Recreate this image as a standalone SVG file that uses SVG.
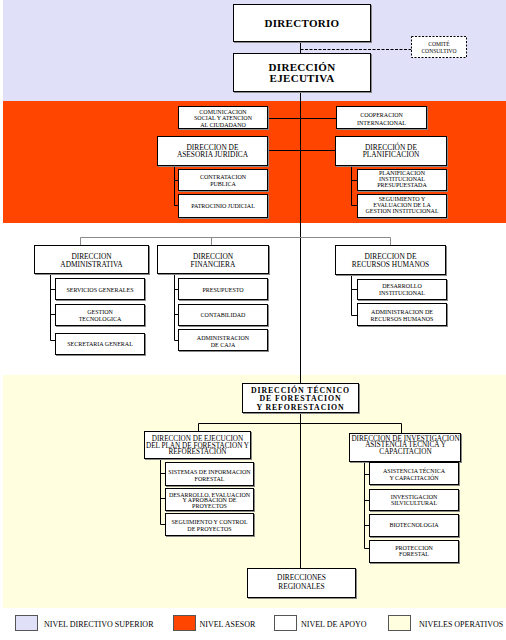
<svg xmlns="http://www.w3.org/2000/svg" width="506" height="640" viewBox="0 0 506 640">
<style>
text{font-family:"Liberation Serif","Times New Roman",serif;text-anchor:middle;fill:#000}
.box{fill:#fff;stroke:#000;stroke-width:1;filter:url(#sh)}
.dash{fill:#fff;stroke:#000;stroke-width:1;stroke-dasharray:2 1.5}
.ln{fill:none;stroke:#000;stroke-width:1}
.lg{fill:none;stroke:#8a8a8a;stroke-width:1}
.s{font-size:6px}
.m{font-size:7.4px}
.b{font-size:11px;font-weight:bold;letter-spacing:0.3px}
.bt{font-size:7.8px;font-weight:bold;letter-spacing:0.9px}
.lt{font-size:8px;text-anchor:start}
.key{stroke:#555;stroke-width:1}
</style>
<defs>
<filter id="sh" x="-5%" y="-5%" width="115%" height="125%">
<feDropShadow dx="1" dy="1" stdDeviation="0" flood-color="#888"/>
</filter>
</defs>
<rect x="3" y="0" width="503" height="101" fill="#E0E0F8"/>
<rect x="3" y="101" width="503" height="122" fill="#FF4500"/>
<rect x="3" y="375" width="503" height="233" fill="#FFFFE0"/>
<g id="connectors">
<path class="ln" d="M300.5 41.5V568.5"/>
<path class="ln" d="M300.5 49.5H411.5" stroke-dasharray="3 1.5"/>
<path class="ln" d="M267.5 118.5H336.5"/>
<path class="ln" d="M267.5 150.5H335.5"/>
<path class="ln" d="M174.5 165.5V205.5H178.5M174.5 180.5H178.5"/>
<path class="ln" d="M351.5 165.5V205.5H357.5M351.5 180.5H357.5"/>
<path class="lg" d="M80.5 245.5V237.5H390.5V245.5M211.5 237.5V245.5"/>
<path class="ln" d="M50.5 273.5V340.5H55.5M50.5 289.5H55.5M50.5 314.5H55.5"/>
<path class="ln" d="M174.5 273.5V340.5H178.5M174.5 289.5H178.5M174.5 314.5H178.5"/>
<path class="ln" d="M351.5 274.5V315.5H357.5M351.5 289.5H357.5"/>
<path class="ln" d="M198.5 431.5V423.5H401.5V433.5"/>
<path class="ln" d="M160.5 458.5V524.5H165.5M160.5 473.5H165.5M160.5 498.5H165.5"/>
<path class="ln" d="M364.5 461.5V548.5H369.5M364.5 474.5H369.5M364.5 500.5H369.5M364.5 525.5H369.5"/>
</g>
<g id="directorio"><rect class="box" x="233.5" y="4.5" width="137" height="37"/><text class="b" x="302" y="26.5">DIRECTORIO</text></g>
<g id="ejecutiva"><rect class="box" x="233.5" y="53.5" width="137" height="38"/><text class="b" x="302" y="70.5">DIRECCIÓN</text><text class="b" x="302" y="82">EJECUTIVA</text></g>
<g id="comite"><rect class="dash" x="411.5" y="36.5" width="55" height="21"/><text class="s" x="439" y="46" style="font-size:5.6px">COMITÉ</text><text class="s" x="439" y="53" style="font-size:5.6px">CONSULTIVO</text></g>
<g id="comunicacion"><rect class="box" x="178.5" y="106.5" width="89" height="22"/><text class="s" x="223" y="114">COMUNICACION</text><text class="s" x="223" y="120.3">SOCIAL Y ATENCION</text><text class="s" x="223" y="126.5">AL CIUDADANO</text></g>
<g id="cooperacion"><rect class="box" x="336.5" y="106.5" width="90" height="22"/><text class="s" x="381.5" y="117.3">COOPERACION</text><text class="s" x="381.5" y="125.3">INTERNACIONAL</text></g>
<g id="asesoria"><rect class="box" x="157.5" y="136.5" width="110" height="29"/><text class="m" x="212.5" y="149.5">DIRECCION DE</text><text class="m" x="212.5" y="157.2">ASESORIA JURIDICA</text></g>
<g id="planificacion"><rect class="box" x="335.5" y="136.5" width="111" height="29"/><text class="m" x="391" y="149.5">DIRECCIÓN DE</text><text class="m" x="391" y="157.2">PLANIFICACION</text></g>
<g id="contratacion"><rect class="box" x="178.5" y="169.5" width="89" height="21"/><text class="s" x="223" y="179">CONTRATACION</text><text class="s" x="223" y="186">PUBLICA</text></g>
<g id="patrocinio"><rect class="box" x="178.5" y="194.5" width="89" height="23"/><text class="s" x="223" y="208">PATROCINIO JUDICIAL</text></g>
<g id="planif-inst"><rect class="box" x="357.5" y="169.5" width="89" height="21"/><text class="s" x="402" y="175">PLANIFICACION</text><text class="s" x="402" y="181">INSTITUCIONAL</text><text class="s" x="402" y="187">PRESUPUESTADA</text></g>
<g id="seguimiento"><rect class="box" x="357.5" y="194.5" width="89" height="23"/><text class="s" x="402" y="201">SEGUIMIENTO Y</text><text class="s" x="402" y="207">EVALUACION DE LA</text><text class="s" x="402" y="213">GESTION INSTITUCIONAL</text></g>
<g id="administrativa"><rect class="box" x="34.5" y="245.5" width="114" height="28"/><text class="m" x="91.5" y="259.3">DIRECCION</text><text class="m" x="91.5" y="266.8">ADMINISTRATIVA</text></g>
<g id="financiera"><rect class="box" x="157.5" y="245.5" width="111" height="28"/><text class="m" x="213" y="259.3">DIRECCION</text><text class="m" x="213" y="266.8">FINANCIERA</text></g>
<g id="servicios"><rect class="box" x="55.5" y="278.5" width="89" height="21"/><text class="s" x="100" y="291.5">SERVICIOS GENERALES</text></g>
<g id="gestion"><rect class="box" x="55.5" y="304.5" width="89" height="21"/><text class="s" x="100" y="313.5">GESTION</text><text class="s" x="100" y="321">TECNOLOGICA</text></g>
<g id="secretaria"><rect class="box" x="55.5" y="333.5" width="89" height="21"/><text class="s" x="100" y="346">SECRETARIA GENERAL</text></g>
<g id="presupuesto"><rect class="box" x="178.5" y="278.5" width="89" height="21"/><text class="s" x="223" y="291.5">PRESUPUESTO</text></g>
<g id="contabilidad"><rect class="box" x="178.5" y="304.5" width="89" height="21"/><text class="s" x="223" y="317">CONTABILIDAD</text></g>
<g id="caja"><rect class="box" x="178.5" y="329.5" width="89" height="21"/><text class="s" x="223" y="339.5">ADMINISTRACION</text><text class="s" x="223" y="346.5">DE CAJA</text></g>
<g id="rrhh"><rect class="box" x="335.5" y="245.5" width="110" height="29"/><text class="m" x="390.5" y="259.3">DIRECCION DE</text><text class="m" x="390.5" y="266.8">RECURSOS HUMANOS</text></g>
<g id="desarrollo"><rect class="box" x="357.5" y="279.5" width="89" height="20"/><text class="s" x="402" y="287.5">DESARROLLO</text><text class="s" x="402" y="294.5">INSTITUCIONAL</text></g>
<g id="adm-rrhh"><rect class="box" x="357.5" y="303.5" width="89" height="22"/><text class="s" x="402" y="314">ADMINISTRACION DE</text><text class="s" x="402" y="320.5">RECURSOS HUMANOS</text></g>
<g id="tecnico"><rect class="box" x="242.5" y="383.5" width="116" height="29"/><text class="bt" x="300.5" y="392.8">DIRECCIÓN TÉCNICO</text><text class="bt" x="300.5" y="401.4">DE FORESTACION</text><text class="bt" x="300.5" y="410">Y REFORESTACION</text></g>
<g id="ejecucion"><rect class="box" x="144.5" y="431.5" width="106" height="27"/><text class="m" x="197.5" y="441" style="font-size:7.2px">DIRECCION DE EJECUCION</text><text class="m" x="197.5" y="447.6" style="font-size:7.2px">DEL PLAN DE FORESTACION Y</text><text class="m" x="197.5" y="454.4" style="font-size:7.2px">REFORESTACION</text></g>
<g id="sistemas"><rect class="box" x="165.5" y="462.5" width="88" height="23"/><text class="s" x="209.5" y="474">SISTEMAS DE INFORMACION</text><text class="s" x="209.5" y="480.5">FORESTAL</text></g>
<g id="desarrollo-eval"><rect class="box" x="165.5" y="488.5" width="88" height="22"/><text class="s" x="209.5" y="496.5">DESARROLLO, EVALUACION</text><text class="s" x="209.5" y="502.2">Y APROBACION DE</text><text class="s" x="209.5" y="508">PROYECTOS</text></g>
<g id="seguimiento-ctrl"><rect class="box" x="165.5" y="513.5" width="88" height="22"/><text class="s" x="209.5" y="524.3">SEGUIMIENTO Y CONTROL</text><text class="s" x="209.5" y="530.5">DE PROYECTOS</text></g>
<g id="investigacion"><rect class="box" x="349.5" y="433.5" width="111" height="28"/><text class="m" x="405.5" y="440.7" style="font-size:7.2px">DIRECCION DE INVESTIGACION</text><text class="m" x="405.5" y="447.3" style="font-size:7.2px">ASISTENCIA TECNICA Y</text><text class="m" x="405.5" y="454" style="font-size:7.2px">CAPACITACION</text></g>
<g id="asistencia"><rect class="box" x="369.5" y="462.5" width="89" height="22"/><text class="s" x="414" y="473.3">ASISTENCIA TÉCNICA</text><text class="s" x="414" y="480">Y CAPACITACIÓN</text></g>
<g id="silvicultural"><rect class="box" x="369.5" y="489.5" width="89" height="21"/><text class="s" x="414" y="499">INVESTIGACION</text><text class="s" x="414" y="505">SILVICULTURAL</text></g>
<g id="biotecnologia"><rect class="box" x="369.5" y="514.5" width="89" height="22"/><text class="s" x="414" y="527.3">BIOTECNOLOGIA</text></g>
<g id="proteccion"><rect class="box" x="369.5" y="540.5" width="89" height="22"/><text class="s" x="414" y="550">PROTECCION</text><text class="s" x="414" y="556">FORESTAL</text></g>
<g id="regionales"><rect class="box" x="247.5" y="568.5" width="108" height="29"/><text class="m" x="301.5" y="580.3">DIRECCIONES</text><text class="m" x="301.5" y="589">REGIONALES</text></g>
<g id="legend">
<rect class="key" x="15.5" y="615.5" width="22" height="15" fill="#E0E0F8"/><text class="lt" x="44" y="627">NIVEL DIRECTIVO SUPERIOR</text>
<rect class="key" x="173.5" y="615.5" width="22" height="15" fill="#FF4500"/><text class="lt" x="199.5" y="627">NIVEL ASESOR</text>
<rect class="key" x="274.5" y="615.5" width="22" height="15" fill="#FFFFFF"/><text class="lt" x="301" y="627">NIVEL DE APOYO</text>
<rect class="key" x="388.5" y="615.5" width="22" height="15" fill="#FFFFE0"/><text class="lt" x="419" y="627">NIVELES OPERATIVOS</text>
</g>
</svg>
